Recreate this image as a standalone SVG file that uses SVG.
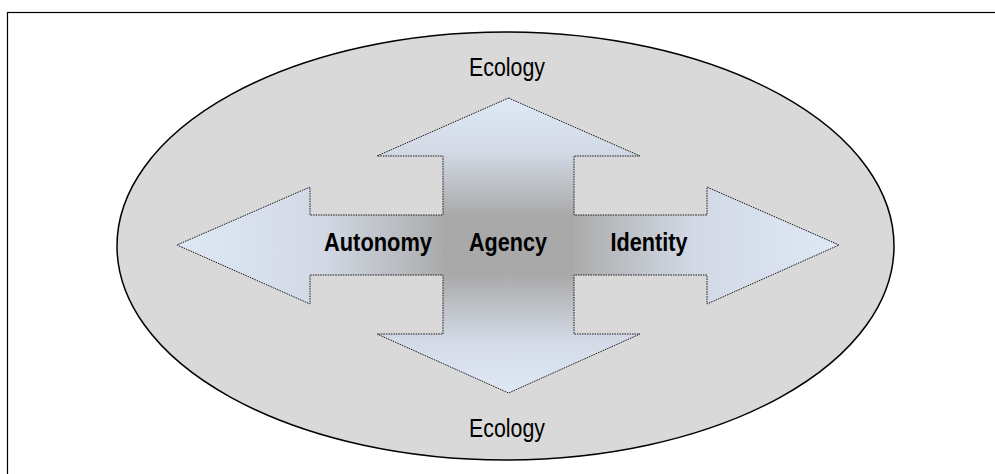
<svg xmlns="http://www.w3.org/2000/svg" width="995" height="474" viewBox="0 0 995 474">
<style>
.lbl{font-family:"Liberation Sans",Arial,sans-serif;font-size:26px;fill:#000;text-anchor:middle}
.b{font-weight:bold}
.outline{fill:none;stroke:#1a1a1a;stroke-width:1;stroke-dasharray:1.5 1}
</style>
<defs>
<linearGradient id="gh" gradientUnits="userSpaceOnUse" x1="177" y1="0" x2="839" y2="0">
<stop offset="0" stop-color="#dfe8f6"/>
<stop offset="0.22" stop-color="#d2d9e5"/>
<stop offset="0.41" stop-color="#a9a9a9"/>
<stop offset="0.59" stop-color="#a9a9a9"/>
<stop offset="0.78" stop-color="#d2d9e5"/>
<stop offset="1" stop-color="#dfe8f6"/>
</linearGradient>
<linearGradient id="gv" gradientUnits="userSpaceOnUse" x1="0" y1="98" x2="0" y2="393">
<stop offset="0" stop-color="#dfe8f6"/>
<stop offset="0.18" stop-color="#d3dae6"/>
<stop offset="0.4" stop-color="#a9a9a9"/>
<stop offset="0.6" stop-color="#a9a9a9"/>
<stop offset="0.82" stop-color="#d3dae6"/>
<stop offset="1" stop-color="#dfe8f6"/>
</linearGradient>
</defs>
<rect x="7.5" y="12.5" width="1000" height="500" fill="#fff" stroke="#000" stroke-width="1.2"/>
<g id="ecology-field">
<ellipse cx="505.5" cy="246" rx="388.5" ry="214" fill="#d9d9d9" stroke="#000" stroke-width="1.5"/>
</g>
<g id="cross">
<polygon fill="url(#gh)" points="177,245 310,187 310,215 707,215 707,187 839,245 707,304 707,275 310,275 310,304"/>
<polygon fill="url(#gv)" points="508.5,98 640,156 574,156 574,334 640,334 508.5,393 377,334 443,334 443,156 377,156"/>
<polygon class="outline" points="508.5,98 640,156 574,156 574,215 707,215 707,187 839,245 707,304 707,275 574,275 574,334 640,334 508.5,393 377,334 443,334 443,275 310,275 310,304 177,245 310,187 310,215 443,215 443,156 377,156"/>
</g>
<g id="label-ecology-top"><text class="lbl" x="507" y="76" textLength="76" lengthAdjust="spacingAndGlyphs">Ecology</text></g>
<g id="label-ecology-bottom"><text class="lbl" x="507" y="437" textLength="76" lengthAdjust="spacingAndGlyphs">Ecology</text></g>
<g id="node-autonomy"><text class="lbl b" x="378" y="251" textLength="108" lengthAdjust="spacingAndGlyphs">Autonomy</text></g>
<g id="node-agency"><text class="lbl b" x="508" y="251" textLength="78" lengthAdjust="spacingAndGlyphs">Agency</text></g>
<g id="node-identity"><text class="lbl b" x="649" y="251" textLength="77" lengthAdjust="spacingAndGlyphs">Identity</text></g>
<g id="connectors"></g>
</svg>
